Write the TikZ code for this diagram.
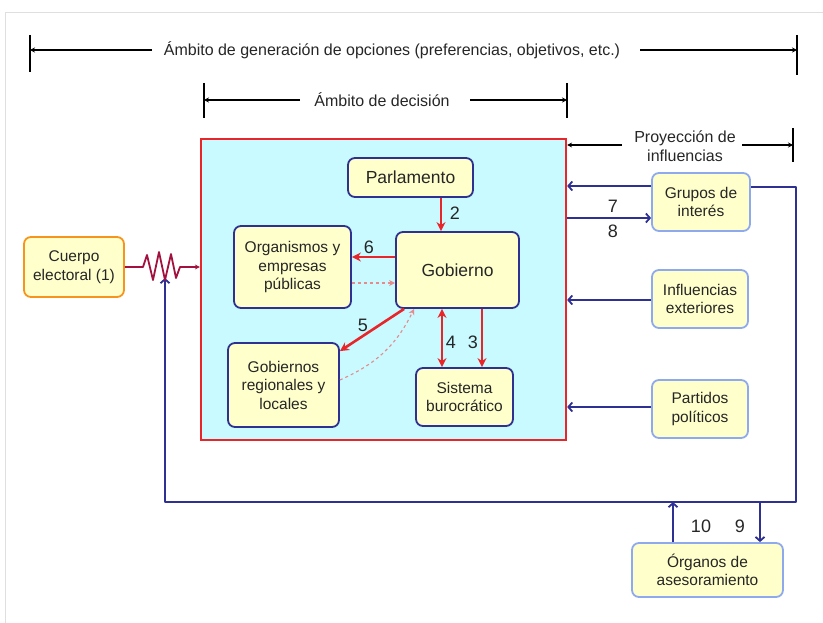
\documentclass[tikz,border=0pt]{standalone}
\usepackage{fontspec}
\setmainfont{Liberation Sans}
\usetikzlibrary{arrows.meta,calc}
\definecolor{cyanfill}{HTML}{C8FAFF}
\definecolor{boxfill}{HTML}{FFFFCC}
\definecolor{navy}{HTML}{2E3192}
\definecolor{lightblue}{HTML}{8FA9EE}
\definecolor{redline}{HTML}{E8262A}
\definecolor{orangeb}{HTML}{F7941D}
\definecolor{wine}{HTML}{A3123E}
\definecolor{dashred}{HTML}{E88A8A}
\definecolor{txt}{HTML}{262626}
\begin{document}
\begin{tikzpicture}[x=1pt,y=-1pt,
 box/.style={draw=navy, line width=1.8pt, fill=boxfill, rounded corners=7pt, align=center, inner sep=0pt, text=txt, font=\fontsize{15.5}{18.5}\selectfont},
 bigbox/.style={box, font=\fontsize{17.5}{20}\selectfont},
 extbox/.style={box, draw=lightblue},
 redarr/.style={draw=redline, line width=2.6pt, -{Stealth[length=9pt,width=9pt]}},
 dasharr/.style={draw=dashred, line width=1.1pt, dashed, -{Stealth[length=6pt,width=6pt]}},
 bluearr/.style={draw=navy, line width=1.8pt, line join=round, -{Straight Barb[length=4pt,width=9pt]}},
 num/.style={font=\fontsize{18}{20}\selectfont, text=txt, inner sep=0pt},
 lbl/.style={font=\fontsize{16}{18.5}\selectfont, text=txt, inner sep=0pt, align=center},
 barline/.style={line width=1.8pt},
 dimline/.style={line width=1.4pt, -{Stealth[length=5pt,width=5pt]}},
]
\useasboundingbox (0,0) rectangle (823,623);
\draw[gray!25, line width=0.8pt] (5,623) -- (5,12) -- (823,12);

% dimension lines
\coordinate (gL) at (30,50); \coordinate (gR) at (797,50);
\coordinate (dL) at (204,100); \coordinate (dR) at (567,100);
\coordinate (pR) at (793,145);
\draw[barline] (30,35) -- (30,72);
\draw[barline] (797,35) -- (797,75);
\draw[barline] (204,83) -- (204,118);
\draw[barline] (567,83) -- (567,118);
\draw[barline] (793,128) -- (793,162);
\node[lbl] (gtxt) at (392,50) {Ámbito de generación de opciones (preferencias, objetivos, etc.)};
\node[lbl] (dtxt) at (382,100) {Ámbito de decisión};
\node[lbl] (ptxt) at (685,146) {Proyección de\\influencias};
\draw[dimline] (152,50) -- (gL);
\draw[dimline] (640,50) -- (gR);
\draw[dimline] (300,100) -- (dL);
\draw[dimline] (470,100) -- (dR);

% decision area
\node[draw=redline, line width=2.2pt, fill=cyanfill, minimum width=365pt, minimum height=301pt, inner sep=0pt] (dec) at (383.5,289.5) {};
\draw[dimline] (622,145) -- (dec.east |- 0,145);
\draw[dimline] (742,145) -- (pR);

\node[bigbox, minimum width=125pt, minimum height=39pt] (parl) at (410.5,177.5) {Parlamento};
\node[bigbox, minimum width=123pt, minimum height=76pt] (gob) at (457.5,270) {Gobierno};
\node[box, minimum width=117pt, minimum height=82pt] (org) at (292.5,267) {Organismos y\\empresas\\públicas};
\node[box, minimum width=111pt, minimum height=84pt] (reg) at (283.5,385) {Gobiernos\\regionales y\\locales};
\node[box, minimum width=97pt, minimum height=58pt] (sis) at (464.5,397) {Sistema\\burocrático};

\node[box, draw=orangeb, minimum width=100pt, minimum height=60pt] (cue) at (74,267) {Cuerpo\\electoral (1)};
\node[extbox, minimum width=98pt, minimum height=58pt] (gru) at (701,202) {Grupos de\\interés};
\node[extbox, minimum width=96pt, minimum height=58pt] (inf) at (700,299) {Influencias\\exteriores};
\node[extbox, minimum width=96pt, minimum height=58pt] (pp) at (700,409) {Partidos\\políticos};
\node[extbox, minimum width=151pt, minimum height=54pt] (ase) at (707.5,570) {Órganos de\\asesoramiento};

% internal arrows
\draw[redarr] (441,0 |- parl.south) -- (441,0 |- gob.north);
\node[num] at (455,213) {2};
\draw[redarr] (gob.west |- 0,257) -- (org.east |- 0,257);
\node[num] at (369,247) {6};
\draw[dasharr] (org.east |- 0,283) -- (gob.west |- 0,283);
\draw[redarr] ([xshift=9pt]gob.south west) -- ([yshift=-9pt]reg.north east);
\node[num] at (363,325) {5};
\draw[dasharr] (reg.east |- 0,380) to[bend right=20] ([xshift=19pt]gob.south west);
\draw[redarr, {Stealth[length=9pt,width=9pt]}-{Stealth[length=9pt,width=9pt]}] (442,0 |- gob.south) -- (442,0 |- sis.north);
\node[num] at (451,342) {4};
\draw[redarr] (482,0 |- gob.south) -- (482,0 |- sis.north);
\node[num] at (473,342) {3};

% external arrows
\draw[bluearr] ([yshift=16pt]gru.west) -- (dec.east |- 0,186);
\draw[bluearr] (dec.east |- 0,218) -- (gru.west |- 0,218);
\node[num] at (613,206) {7};
\node[num] at (613,231) {8};
\draw[bluearr] (inf.west |- 0,300) -- (dec.east |- 0,300);
\draw[bluearr] (pp.west |- 0,407) -- (dec.east |- 0,407);

% feedback loop
\coordinate (loopC) at (796,502);
\coordinate (resin) at (165,278);
\coordinate (loopA) at (673,502);
\coordinate (loopB) at (760,502);
\draw[bluearr] ([yshift=15pt]gru.east) -| (loopC) -| (resin);
\draw[bluearr] (673,0 |- ase.north) -- (loopA);
\draw[bluearr] (loopB) -- (760,0 |- ase.north);
\node[num] at (701,526) {10};
\node[num] at (740,526) {9};

% resistor
\draw[wine, line width=1.8pt, line join=round, -{Stealth[length=5pt,width=5pt]}] (cue.east) -- (143,267) -- (147,255) -- (153,280) -- (159,252) -- (165,280) -- (171,254) -- (176,278) -- (180,267) -- (dec.west |- 0,267);
\end{tikzpicture}
\end{document}
